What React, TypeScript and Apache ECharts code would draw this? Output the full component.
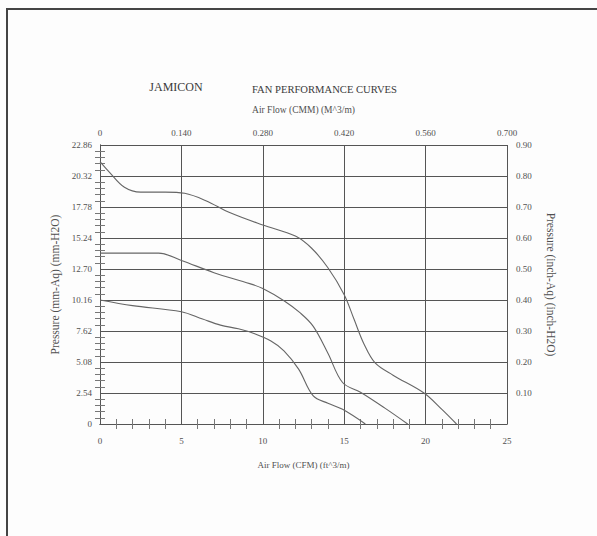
import React, { useEffect, useRef } from "react";
import * as echarts from "echarts";

const curveHigh: [number, number][] = [
  [0, 21.5], [0.6, 20.6], [1.5, 19.4], [2.5, 19.0], [4, 19.0], [5.2, 18.9],
  [6.5, 18.3], [8, 17.3], [10, 16.3], [12, 15.4], [13, 14.4], [14, 12.8],
  [15, 10.6], [15.6, 8.6], [16.2, 6.6], [16.9, 5.0], [18, 4.0], [19.9, 2.54],
  [21, 1.2], [21.9, 0],
];
const curveMid: [number, number][] = [
  [0, 14.0], [2, 14.0], [3.6, 14.0], [5, 13.4], [7, 12.4], [9.2, 11.5],
  [10, 11.1], [11.3, 10.1], [12.3, 9.1], [13.1, 8.0], [14, 5.8], [14.9, 3.4],
  [16, 2.6], [17.5, 1.3], [18.9, 0],
];
const curveLow: [number, number][] = [
  [0, 10.16], [2, 9.7], [5, 9.2], [6.3, 8.6], [7.4, 8.1], [8.5, 7.8],
  [9.5, 7.4], [10.5, 6.8], [11.3, 6.0], [12.2, 4.5], [13.1, 2.3], [14, 1.7],
  [14.9, 1.2], [16.3, 0],
];

const cfmRange = { min: 0, max: 25, interval: 5 };
const cmmRange = { min: 0, max: 0.7, interval: 0.14 };
const mmRange = { min: 0, max: 22.86, interval: 2.54 };
const inchRange = { min: 0, max: 0.9, interval: 0.1 };

const titleLeft = "JAMICON";
const titleMain = "FAN PERFORMANCE CURVES";

export default function App() {
  const ref = useRef<HTMLDivElement>(null);
  useEffect(() => {
    document.body.style.margin = "0";
    const chart = echarts.init(ref.current!, undefined, { renderer: "svg" });
    const font = "Liberation Serif";
    const txt = "#505050";
    const gridC = "#555";
    const minor = { show: true, splitNumber: 5, length: 5, lineStyle: { color: "#777", width: 1 } };
    chart.setOption({
      animation: false,
      backgroundColor: "#fdfdfd",
      textStyle: { fontFamily: font },
      graphic: [
        { type: "line", shape: { x1: 6, y1: 9, x2: 597, y2: 9 }, style: { stroke: "#444", lineWidth: 2 } },
        { type: "line", shape: { x1: 7, y1: 8, x2: 7, y2: 536 }, style: { stroke: "#444", lineWidth: 2 } },
        { type: "text", x: 176, y: 87, style: { text: titleLeft, fill: "#3a3a3a", font: `12px "${font}"`, align: "center", verticalAlign: "middle" } },
        { type: "text", x: 252, y: 89, style: { text: titleMain, fill: "#3a3a3a", font: `10.6px "${font}"`, align: "left", verticalAlign: "middle" } },
      ],
      grid: { left: 100, right: 90, top: 145, bottom: 112 },
      xAxis: [
        {
          type: "value", position: "bottom", ...cfmRange,
          name: "Air Flow (CFM) (ft^3/m)", nameLocation: "middle", nameGap: 36,
          nameTextStyle: { color: txt, fontSize: 9, fontFamily: font },
          axisLine: { show: true, lineStyle: { color: gridC, width: 1 } },
          axisTick: { show: false, inside: true },
          minorTick: minor,
          axisLabel: { color: txt, fontSize: 9, fontFamily: font, margin: 12 },
          splitLine: { show: true, lineStyle: { color: gridC, width: 1 } },
        },
        {
          type: "value", position: "top", ...cmmRange,
          name: "Air Flow (CMM) (M^3/m)", nameLocation: "middle", nameGap: 30,
          nameTextStyle: { color: txt, fontSize: 9.5, fontFamily: font },
          axisLine: { show: true, lineStyle: { color: gridC, width: 1 } },
          axisTick: { show: false, inside: true },
          minorTick: minor,
          axisLabel: {
            color: txt, fontSize: 9, fontFamily: font, margin: 8,
            formatter: (v: number) => (v === 0 ? "0" : v.toFixed(3)),
          },
          splitLine: { show: false },
        },
      ],
      yAxis: [
        {
          type: "value", position: "left", ...mmRange,
          name: "Pressure (mm-Aq) (mm-H2O)", nameLocation: "middle", nameGap: 34,
          nameTextStyle: { color: txt, fontSize: 11.5, fontFamily: font },
          axisLine: { show: true, lineStyle: { color: gridC, width: 1 } },
          axisTick: { show: false, inside: true },
          minorTick: minor,
          axisLabel: {
            color: txt, fontSize: 9, fontFamily: font, margin: 8,
            formatter: (v: number) => (v === 0 ? "0" : v.toFixed(2)),
          },
          splitLine: { show: true, lineStyle: { color: gridC, width: 1 } },
        },
        {
          type: "value", position: "right", ...inchRange,
          name: "Pressure (inch-Aq) (inch-H2O)", nameLocation: "middle", nameGap: 38,
          nameRotate: -90,
          nameTextStyle: { color: txt, fontSize: 11.5, fontFamily: font },
          axisLine: { show: true, lineStyle: { color: gridC, width: 1 } },
          axisTick: { show: false, inside: true },
          minorTick: minor,
          axisLabel: {
            color: txt, fontSize: 9, fontFamily: font, margin: 9,
            formatter: (v: number) => (v === 0 ? "" : v.toFixed(2)),
          },
          splitLine: { show: false },
        },
      ],
      series: [curveHigh, curveMid, curveLow].map((d) => ({
        type: "line",
        xAxisIndex: 0,
        yAxisIndex: 0,
        data: d,
        smooth: 0.35,
        showSymbol: false,
        symbol: "none",
        lineStyle: { color: "#666", width: 1.1 },
      })),
    });
    return () => chart.dispose();
  }, []);
  return <div ref={ref} style={{ width: 597, height: 536 }} />;
}
